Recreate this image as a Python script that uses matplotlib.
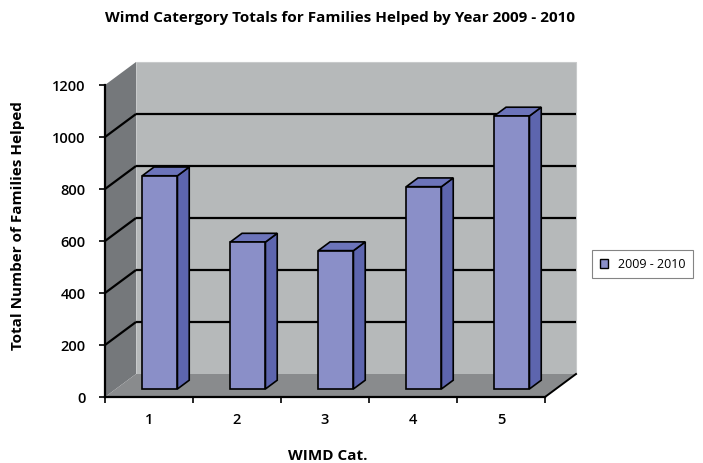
import matplotlib
matplotlib.use("Agg")
import matplotlib.pyplot as plt
from matplotlib.patches import Polygon, Patch
import numpy as np

# ---- data ----
categories = ["1", "2", "3", "4", "5"]
values = [820, 565, 532, 778, 1050]
series_name = "2009 - 2010"
yticks = [0, 200, 400, 600, 800, 1000, 1200]
title = "Wimd Catergory Totals for Families Helped by Year 2009 - 2010"
xlabel = "WIMD Cat."
ylabel = "Total Number of Families Helped"

# ---- layout (pixels of the 703x464 canvas) ----
W, H = 703, 464
X0PX, CATPX = 105, 88.0      # front-left corner x, width of one category
Y0PX, VPX = 398, 0.26        # y of value 0 (from top), pixels per unit
DXPX, DYPX = 31, 23          # depth of the 3D box
F0, F1 = 0.35, 0.73          # depth fraction of bar front/back
BARW = 0.40

FONT = ["Open Sans", "DejaVu Sans"]
plt.rcParams["font.family"] = FONT

fig = plt.figure(figsize=(W / 100, H / 100), dpi=100)
fig.patch.set_facecolor("white")
ax = fig.add_axes([0, 0, 1, 1])
ax.set_facecolor("none")
ax.set_xlim(0.5 - X0PX / CATPX, 0.5 + (W - X0PX) / CATPX)
ax.set_ylim((Y0PX - H) / VPX, Y0PX / VPX)

DX = DXPX / CATPX
DY = DYPX / VPX
n = len(categories)
xl, xr = 0.5, n + 0.5
ymax = yticks[-1]

back_c = "#b6b9ba"
side_c = "#75787b"
floor_c = "#898b8d"

# walls
ax.add_patch(Polygon([(xl + DX, DY), (xr + DX, DY), (xr + DX, ymax + DY), (xl + DX, ymax + DY)],
                     closed=True, facecolor=back_c, edgecolor="#c8cacb", lw=0.8, zorder=1))
ax.add_patch(Polygon([(xl, 0), (xl, ymax), (xl + DX, ymax + DY), (xl + DX, DY)],
                     closed=True, facecolor=side_c, edgecolor="none", zorder=1.5))
ax.add_patch(Polygon([(xl, 0), (xr, 0), (xr + DX, DY), (xl + DX, DY)],
                     closed=True, facecolor=floor_c, edgecolor="none", zorder=1.5))

# gridlines
for v in yticks[1:-1]:
    ax.plot([xl, xl + DX], [v, v + DY], color="black", lw=1.6, zorder=2, solid_capstyle="butt")
    ax.plot([xl + DX, xr + DX], [v + DY, v + DY], color="black", lw=1.6, zorder=2, solid_capstyle="butt")
ax.plot([xr, xr + DX], [0, DY], color="black", lw=1.4, zorder=2)

# bars
x = np.arange(1, n + 1)
xf = x + F0 * DX
bars = ax.bar(xf, values, width=BARW, bottom=F0 * DY, color="#8a8fc8",
              edgecolor="black", linewidth=1.2, zorder=5, label=series_name)
d = (F1 - F0)
for xi, v in zip(xf, values):
    b0 = F0 * DY
    left, right = xi - BARW / 2, xi + BARW / 2
    side = [(right, b0), (right + d * DX, b0 + d * DY), (right + d * DX, b0 + v + d * DY), (right, b0 + v)]
    top = [(left, b0 + v), (right, b0 + v), (right + d * DX, b0 + v + d * DY), (left + d * DX, b0 + v + d * DY)]
    ax.add_patch(Polygon(side, closed=True, facecolor="#5d65ae", edgecolor="black", lw=1.2, zorder=4))
    ax.add_patch(Polygon(top, closed=True, facecolor="#6c74ba", edgecolor="black", lw=1.2, zorder=4))

# axes
for s in ["top", "right"]:
    ax.spines[s].set_visible(False)
ax.spines["left"].set_position(("data", xl))
ax.spines["left"].set_bounds(0, ymax)
ax.spines["bottom"].set_position(("data", 0))
ax.spines["bottom"].set_bounds(xl, xr)
for s in ["left", "bottom"]:
    ax.spines[s].set_linewidth(1.6)
    ax.spines[s].set_zorder(6)
ax.set_yticks(yticks)
ax.set_yticklabels([str(t) for t in yticks])
ax.tick_params(axis="y", direction="out", length=4, width=1.2, pad=10, labelsize=10.5)
ax.set_xticks(x)
ax.set_xticklabels(categories)
ax.set_xticks(np.arange(xl, xr + 0.01, 1.0), minor=True)
ax.tick_params(axis="x", which="major", length=0, pad=11, labelsize=10.5)
ax.tick_params(axis="x", which="minor", direction="out", length=4, width=1.2)
for lab in ax.get_xticklabels() + ax.get_yticklabels():
    lab.set_fontweight("semibold")

# texts
fig.text(340 / W, 1 - 18 / H, title, ha="center", va="center", fontsize=11, fontweight="bold")
fig.text(328 / W, 1 - 456 / H, xlabel, ha="center", va="center", fontsize=11, fontweight="bold")
fig.text(18 / W, 1 - 226 / H, ylabel, ha="center", va="center", rotation=90, fontsize=11, fontweight="bold")

# legend
leg = fig.legend(handles=[Patch(facecolor="#8a8fc8", edgecolor="black", label=series_name)],
                 loc="center left", bbox_to_anchor=(592 / W, 1 - 265 / H), frameon=True,
                 fancybox=False, fontsize=9, handlelength=0.7, handleheight=0.7,
                 borderpad=0.6, handletextpad=0.8, borderaxespad=0)
leg.get_frame().set_edgecolor("#666666")
leg.get_frame().set_linewidth(0.8)

fig.savefig("out.png", dpi=100, facecolor="white")
